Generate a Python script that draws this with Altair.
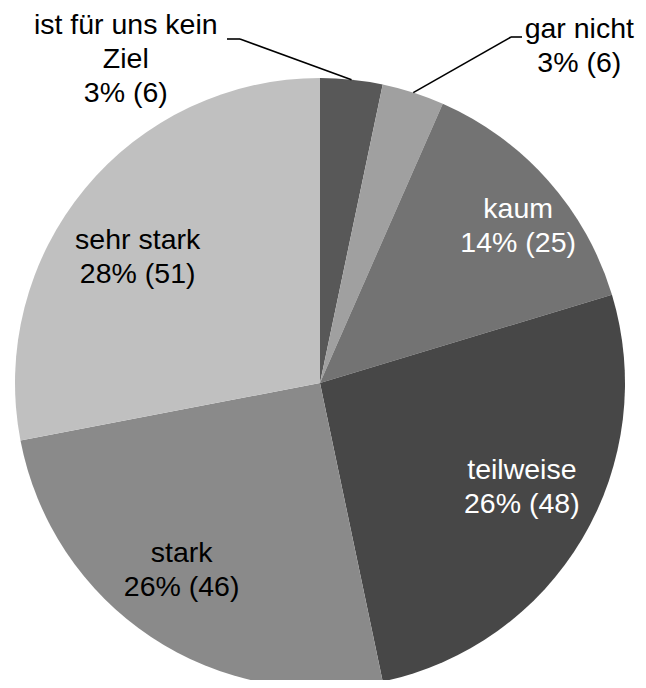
import math
import altair as alt
import pandas as pd

categories = ["ist für uns kein Ziel", "gar nicht", "kaum", "teilweise", "stark", "sehr stark"]
counts = [6, 6, 25, 48, 46, 51]
percents = ["3%", "3%", "14%", "26%", "26%", "28%"]
colors = ["#585858", "#a0a0a0", "#737373", "#474747", "#8a8a8a", "#c0c0c0"]
label_lines = [
    ["ist für uns kein", "Ziel", "3% (6)"],
    ["gar nicht", "3% (6)"],
    ["kaum", "14% (25)"],
    ["teilweise", "26% (48)"],
    ["stark", "26% (46)"],
    ["sehr stark", "28% (51)"],
]
text_colors = ["black", "black", "white", "white", "black", "black"]

df = pd.DataFrame({
    "cat": categories,
    "value": counts,
    "order": list(range(len(categories))),
    "label": label_lines,
})

W, H = 630, 672
CX, CY = 312, 375
R = 305
LABEL_R = 230

# per-label offsets (dx, dy) from the polar label anchor
offsets = {
    "ist für uns kein Ziel": (-218, -129),
    "gar nicht": (189, -135),
    "kaum": (26, -21),
    "teilweise": (4, -30),
    "stark": (-11, -22),
    "sehr stark": (-5, 3),
}

base = alt.Chart(df)

pie = base.mark_arc(outerRadius=R, stroke=None).encode(
    theta=alt.Theta("value:Q", stack=True),
    order=alt.Order("order:Q"),
    color=alt.Color("cat:N", scale=alt.Scale(domain=categories, range=colors), legend=None),
    x=alt.value(CX),
    y=alt.value(CY),
)

layers = [pie]
for cat, tc in zip(categories, text_colors):
    dx, dy = offsets[cat]
    t = base.mark_text(
        radius=LABEL_R, dx=dx, dy=dy, font="Liberation Sans", fontSize=28.5,
        lineHeight=34, align="center", baseline="middle", color=tc,
    ).encode(
        theta=alt.Theta("value:Q", stack=True),
        order=alt.Order("order:Q"),
        text=alt.condition(alt.datum.cat == cat, "label", alt.value("")),
        x=alt.value(CX),
        y=alt.value(CY),
    )
    layers.append(t)

# leader lines: pie edge point derived from slice mid-angle
total = sum(counts)
cum = 0
mids = []
for v in counts:
    mids.append((cum + v / 2) / total * 2 * math.pi)
    cum += v

def edge(i):
    a = mids[i]
    return CX + R * math.sin(a), CY - R * math.cos(a)

e0 = edge(0)
e1 = edge(1)
seg = pd.DataFrame({
    "x": [219, 232, 514, 503],
    "y": [31, 31, 29, 29],
    "x2": [232, e0[0], 503, e1[0]],
    "y2": [31, e0[1], 29, e1[1]],
})
leaders = alt.Chart(seg).mark_rule(color="black", strokeWidth=1.6).encode(
    x=alt.X("x:Q", scale=None),
    y=alt.Y("y:Q", scale=None),
    x2="x2:Q",
    y2="y2:Q",
)
layers.append(leaders)

chart = alt.layer(*layers).properties(
    width=W, height=H, autosize="none", padding=0
).configure_view(stroke=None)

chart.save("out.html", embed_options={"renderer": "svg", "actions": False})
